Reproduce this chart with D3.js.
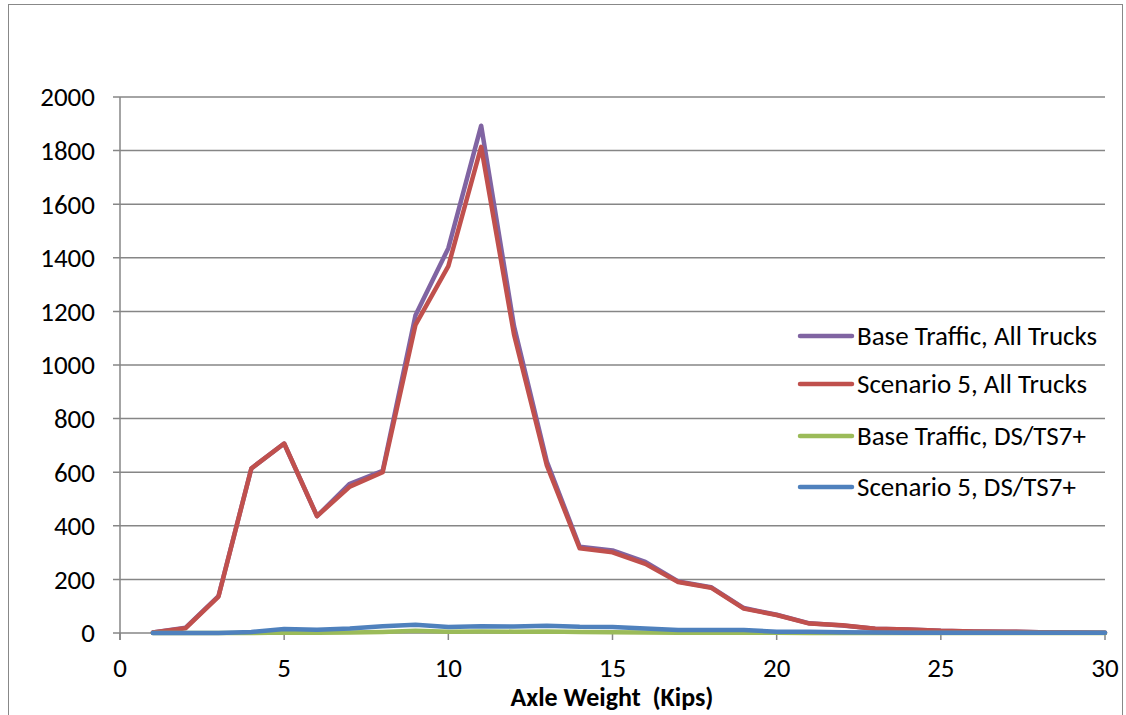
<!DOCTYPE html>
<html><head><meta charset="utf-8">
<script src="https://cdn.jsdelivr.net/npm/d3@7"></script>
<style>body{margin:0;background:#fff}svg{display:block}</style>
</head><body>
<script>
const weights = d3.range(1, 31);
const seriesNames = ["Base Traffic, All Trucks","Scenario 5, All Trucks","Base Traffic, DS/TS7+","Scenario 5, DS/TS7+"];
const seriesColors = ["#8064a2","#c0504d","#9bbb59","#4f81bd"];
const baseAll = [2,20,138,614,707,436,557,605,1186,1436,1893,1145,640,322,308,265,192,171,93,68,36,28,16,13,8,6,5,3,2,1];
const scen5All = [2,18,136,614,707,436,546,600,1150,1369,1814,1114,625,316,301,258,190,169,91,67,35,29,16,13,8,6,5,3,2,1];
const baseDS = [0,0,0,0,2,1,2,4,8,5,6,5,6,4,3,2,1,1,1,1,0,0,0,0,0,0,0,0,0,0];
const scen5DS = [0,0,0,4,15,12,17,25,31,22,25,24,27,23,22,17,11,11,11,5,5,3,2,1,1,1,1,1,1,1];
const yTicks = [0,200,400,600,800,1000,1200,1400,1600,1800,2000];
const xTicks = [0,5,10,15,20,25,30];
const allSeries = [baseAll, scen5All, baseDS, scen5DS];

const W = 1126, H = 715;
const svg = d3.select("body").append("svg").attr("width", W).attr("height", H);
svg.append("rect").attr("x",8.5).attr("y",4.5).attr("width",1114).attr("height",712)
  .attr("fill","none").attr("stroke","#888").attr("stroke-width",1);

const x = d3.scaleLinear().domain([0,30]).range([120,1105]);
const y = d3.scaleLinear().domain([0,2000]).range([633,97]);
const font = "Carlito, Lato, 'Open Sans', sans-serif";

svg.append("g").selectAll("line").data(yTicks).join("line")
  .attr("x1",113).attr("x2",1105).attr("y1",d=>y(d)).attr("y2",d=>y(d))
  .attr("stroke","#868686").attr("stroke-width",1.5);
svg.append("line").attr("x1",x(0)).attr("x2",x(0)).attr("y1",y(2000)).attr("y2",640)
  .attr("stroke","#868686").attr("stroke-width",1.5);
svg.append("g").selectAll("line").data(xTicks).join("line")
  .attr("x1",d=>x(d)).attr("x2",d=>x(d)).attr("y1",633).attr("y2",640)
  .attr("stroke","#868686").attr("stroke-width",1.5);

svg.append("g").selectAll("text").data(yTicks).join("text")
  .attr("x",95).attr("y",d=>y(d)).attr("dy","0.35em").attr("text-anchor","end")
  .attr("font-family",font).attr("font-size",27).attr("fill","#000").text(d=>d);
svg.append("g").selectAll("text").data(xTicks).join("text")
  .attr("x",d=>x(d)).attr("y",677).attr("text-anchor","middle")
  .attr("font-family",font).attr("font-size",27).attr("fill","#000").text(d=>d);
svg.append("text").attr("x",612).attr("y",706).attr("text-anchor","middle")
  .attr("font-family",font).attr("font-size",26).attr("font-weight","bold")
  .attr("xml:space","preserve").style("white-space","pre").text("Axle Weight  (Kips)");

const line = d3.line().x((d,i)=>x(weights[i])).y(d=>y(d));
svg.append("g").selectAll("path").data(allSeries).join("path")
  .attr("d",d=>line(d)).attr("fill","none")
  .attr("stroke",(d,i)=>seriesColors[i]).attr("stroke-width",4.5)
  .attr("stroke-linejoin","round").attr("stroke-linecap","round");

const legY = [336,384,436,487];
const lg = svg.append("g").selectAll("g").data(seriesNames).join("g");
lg.append("line").attr("x1",800).attr("x2",852).attr("y1",(d,i)=>legY[i]).attr("y2",(d,i)=>legY[i])
  .attr("stroke",(d,i)=>seriesColors[i]).attr("stroke-width",4.5).attr("stroke-linecap","round");
lg.append("text").attr("x",857).attr("y",(d,i)=>legY[i]).attr("dy","0.35em")
  .attr("font-family",font).attr("font-size",27).attr("fill","#000").text(d=>d);
</script>
</body></html>
